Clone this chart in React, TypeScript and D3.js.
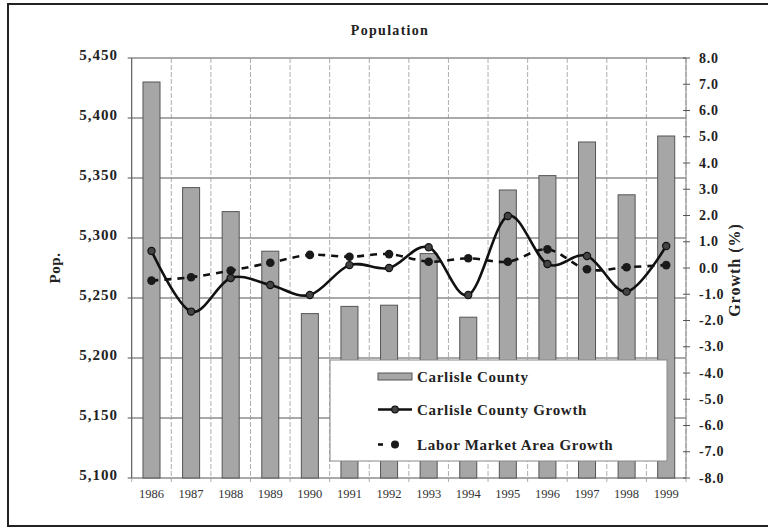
import React from 'react';
import * as d3 from 'd3';

const years = ['1986', '1987', '1988', '1989', '1990', '1991', '1992', '1993', '1994', '1995', '1996', '1997', '1998', '1999'];
const population = [5430, 5342, 5322, 5289, 5237, 5243, 5244, 5287, 5234, 5340, 5352, 5380, 5336, 5385];
const countyGrowth = [0.65, -1.66, -0.38, -0.65, -1.03, 0.11, 0.0, 0.79, -1.03, 1.98, 0.15, 0.46, -0.9, 0.84];
const laborGrowth = [-0.48, -0.35, -0.1, 0.2, 0.5, 0.43, 0.53, 0.24, 0.37, 0.24, 0.71, -0.05, 0.03, 0.11];
const popTicks = [5100, 5150, 5200, 5250, 5300, 5350, 5400, 5450];
const growthTicks = d3.range(-8, 9, 1);
const legendLabels = ['Carlisle County', 'Carlisle County Growth', 'Labor Market Area Growth'];

const serif = '"Liberation Serif", "Times New Roman", serif';
// hyphen instead of unicode minus, like the original
const fmtGrowth = (v: number) => d3.format('.1f')(v).replace('\u2212', '-');

export default function App() {
  const left = 131.7, right = 686, top = 58, bottom = 478;

  const x = d3.scaleBand<string>()
    .domain(years)
    .range([left, right])
    .paddingInner(0.57)
    .paddingOuter(0.285);
  const step = x.step();
  const cx = (y: string) => (x(y) as number) + x.bandwidth() / 2;

  const yPop = d3.scaleLinear().domain([5100, 5450]).range([bottom, top]);
  const yGrowth = d3.scaleLinear().domain([-8, 8]).range([bottom, top]);

  const line = d3.line<number>()
    .x((_, i) => cx(years[i]))
    .y(d => yGrowth(d))
    .curve(d3.curveCardinal.tension(0));

  const bounds = d3.range(0, years.length + 1).map(i => left + i * step);

  // legend box
  const lg = { x: 330, y: 360, w: 337, h: 101 };
  const rowY = [376.5, 409.5, 444.5];

  return (
    <svg width={768} height={528} style={{ position: 'absolute', left: 0, top: 0, background: '#fff' }}
      fontFamily={serif}>
      <rect x={8} y={4} width={800} height={522} fill="#fff" stroke="#222" strokeWidth={2} />

      <text x={390} y={35} textAnchor="middle" fontSize={14} fontWeight="bold" letterSpacing={1.3} fill="#222">
        Population
      </text>

      {/* gridlines */}
      {popTicks.map(t => (
        <line key={'h' + t} x1={left - 4} x2={right} y1={yPop(t)} y2={yPop(t)} stroke="#555" strokeWidth={1} />
      ))}
      {bounds.map((b, i) => (
        <line key={'v' + i} x1={b} x2={b} y1={top} y2={bottom + 4} stroke="#999" strokeWidth={0.8}
          strokeDasharray={i === 0 ? undefined : '5 2'} />
      ))}

      {/* bars */}
      {years.map((yr, i) => (
        <rect key={yr} x={x(yr)} y={yPop(population[i])} width={x.bandwidth()}
          height={bottom - yPop(population[i])} fill="#a6a6a6" stroke="#555" strokeWidth={1} />
      ))}

      {/* growth lines */}
      <path d={line(laborGrowth) || ''} fill="none" stroke="#111" strokeWidth={2.6} strokeDasharray="7 6" />
      {laborGrowth.map((g, i) => (
        <circle key={'l' + i} cx={cx(years[i])} cy={yGrowth(g)} r={4.3} fill="#1a1a1a" />
      ))}
      <path d={line(countyGrowth) || ''} fill="none" stroke="#111" strokeWidth={2.6} />
      {countyGrowth.map((g, i) => (
        <circle key={'c' + i} cx={cx(years[i])} cy={yGrowth(g)} r={3.6} fill="#444" stroke="#111" strokeWidth={1.2} />
      ))}

      {/* left axis */}
      <line x1={left} x2={left} y1={top} y2={bottom} stroke="#555" strokeWidth={1} />
      {popTicks.map(t => (
        <text key={'pl' + t} x={118} y={yPop(t) + 2} textAnchor="end" fontSize={15} fontWeight="bold"
          letterSpacing={1} fill="#222">
          {d3.format(',')(t)}
        </text>
      ))}
      <text transform={`translate(60,268) rotate(-90)`} textAnchor="middle" fontSize={15} fontWeight="bold"
        letterSpacing={0.5} fill="#222">Pop.</text>

      {/* right axis */}
      <line x1={right} x2={right} y1={top} y2={bottom} stroke="#888" strokeWidth={1} />
      {growthTicks.map(t => (
        <g key={'g' + t}>
          <line x1={right - 3} x2={right + 4} y1={yGrowth(t)} y2={yGrowth(t)} stroke="#555" strokeWidth={1} />
          <text x={699} y={yGrowth(t) + 4.7} fontSize={14} fontWeight="bold" letterSpacing={0.8} fill="#222">
            {fmtGrowth(t)}
          </text>
        </g>
      ))}
      <text transform={`translate(740,270) rotate(-90)`} textAnchor="middle" fontSize={16} fontWeight="bold"
        letterSpacing={1} fill="#222">Growth (%)</text>

      {/* x labels */}
      {years.map(yr => (
        <text key={'x' + yr} x={cx(yr)} y={497.5} textAnchor="middle" fontSize={12.5} fill="#333">{yr}</text>
      ))}

      {/* legend */}
      <rect x={lg.x} y={lg.y} width={lg.w} height={lg.h} fill="#fff" stroke="#888" strokeWidth={1} />
      <rect x={378} y={rowY[0] - 3.5} width={34} height={7} fill="#a6a6a6" stroke="#555" strokeWidth={1} />
      <line x1={378} x2={412} y1={rowY[1]} y2={rowY[1]} stroke="#111" strokeWidth={2.6} />
      <circle cx={395} cy={rowY[1]} r={3.3} fill="#444" stroke="#111" strokeWidth={1.2} />
      <line x1={378} x2={412} y1={rowY[2]} y2={rowY[2]} stroke="#111" strokeWidth={2.6} strokeDasharray="5 30" />
      <circle cx={395} cy={rowY[2]} r={4} fill="#1a1a1a" />
      {legendLabels.map((l, i) => (
        <text key={l} x={417} y={rowY[i] + 5} fontSize={15} fontWeight="bold" letterSpacing={0.7} fill="#222">{l}</text>
      ))}
    </svg>
  );
}
